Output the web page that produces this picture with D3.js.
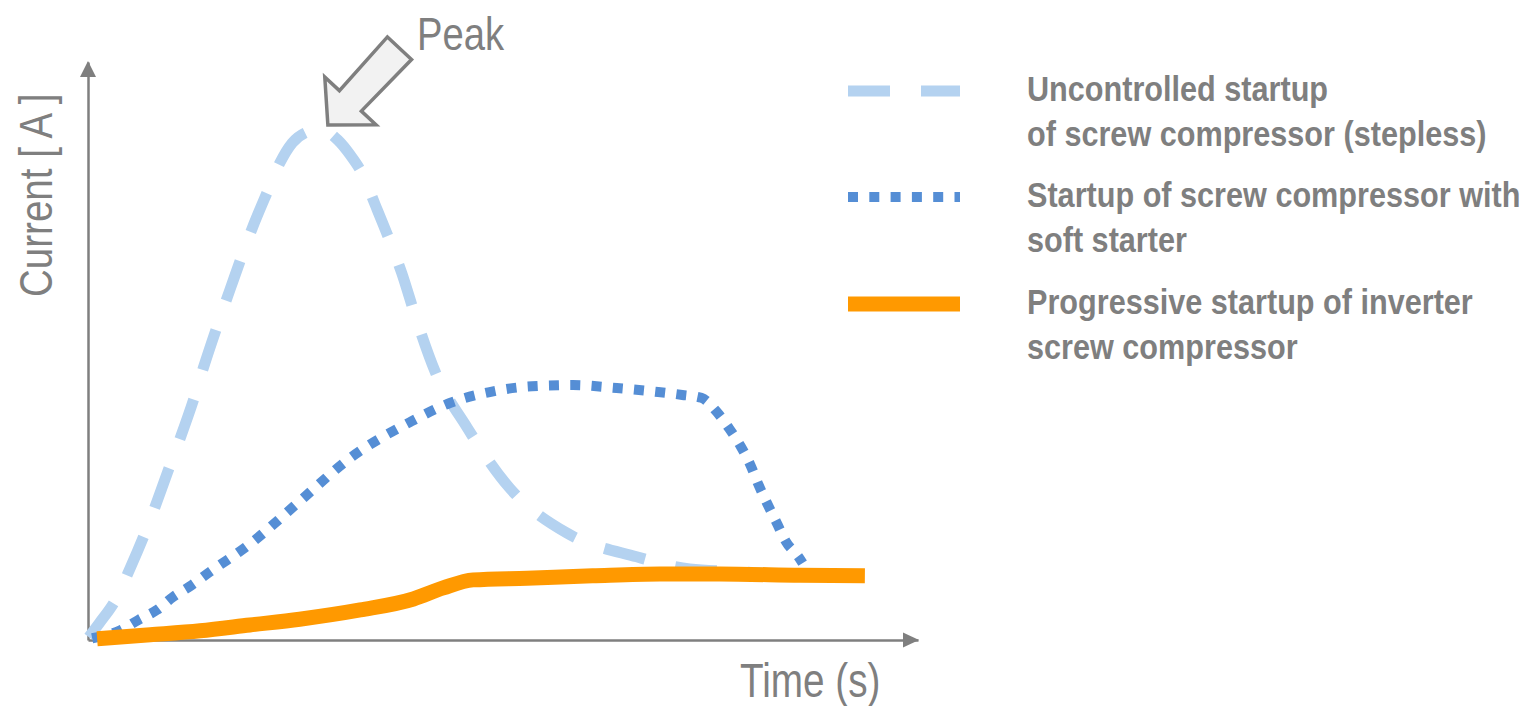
<!DOCTYPE html>
<html>
<head>
<meta charset="utf-8">
<script src="https://cdn.jsdelivr.net/npm/d3@7"></script>
<style>
    html, body { margin: 0; padding: 0; background: #ffffff; }
    #chart { width: 1526px; height: 706px; }
    text { font-family: "Liberation Sans", Arial, sans-serif; fill: #7f7f7f; }
</style>
</head>
<body>
<div id="chart"></div>
<script>
// [time, current], arbitrary units 0..100
var uncontrolled = [
    [0.1, 0.5], [1.4, 3.0], [3.3, 6.9], [5.1, 12.5], [7.5, 20.8], [9.6, 29.1],
    [11.1, 34.9], [12.7, 41.5], [13.9, 47.1], [15.4, 53.6], [17.1, 60.6],
    [19.8, 71.3], [21.6, 77.5], [23.1, 82.5], [24.6, 86.0], [26.4, 87.9],
    [28.0, 88.4], [30.1, 86.5], [31.6, 83.9], [33.0, 80.8], [34.6, 75.3],
    [36.4, 68.9], [37.8, 63.5], [39.4, 56.2], [41.8, 46.5], [45.7, 36.7],
    [50.8, 26.3], [57.7, 18.5], [66.1, 14.4], [72.5, 12.3], [78.6, 11.8],
    [85.8, 11.2], [94.7, 10.9]
];

var softStarter = [
    [0.5, 0.3], [3.9, 1.7], [6.1, 3.5], [8.3, 5.2], [10.2, 7.4], [12.5, 9.5],
    [14.7, 11.8], [19.5, 16.6], [25.5, 24.0], [31.6, 31.5], [38.8, 37.7],
    [43.6, 41.0], [48.4, 42.9], [53.5, 43.9], [58.4, 44.1], [63.7, 43.6],
    [68.7, 42.9], [71.6, 42.4], [73.9, 41.9], [75.8, 39.4], [77.2, 36.7],
    [78.6, 33.6], [79.8, 30.3], [80.8, 26.8], [81.8, 23.7], [83.0, 20.2],
    [84.1, 17.0], [85.7, 14.2], [86.1, 13.3]
];

var inverter = [
    [1.1, 0.2], [7.5, 0.9], [13.5, 1.6], [19.5, 2.6], [25.5, 3.6], [32.8, 5.2],
    [39.2, 7.1], [42.8, 9.0], [46.4, 10.4], [52.9, 10.7], [60.8, 11.1],
    [68.9, 11.4], [76.1, 11.4], [85.8, 11.2], [93.6, 11.1]
];

var legendLabels = [
    ["Uncontrolled startup", "of screw compressor (stepless)"],
    ["Startup of screw compressor with", "soft starter"],
    ["Progressive startup of inverter", "screw compressor"]
];

var axisLabels = { x: "Time (s)", y: "Current [ A ]" };
var peakLabel = "Peak";
var peakTip = [28.9, 89.1];   // where the arrow points

function StartupChart(container){
    this.container = container;
    this.svg = null;
    this.width = 1526;
    this.height = 706;

    this.axis = {};
    this.axis.x = d3.scaleLinear().domain([0, 100]).range([88, 918]);
    this.axis.y = d3.scaleLinear().domain([0, 100]).range([640, 62]);

    this.gray = "#7f7f7f";
    this.series = [
        { data: uncontrolled, color: "#b4d2f0", width: 11, dash: "42,31" },
        { data: softStarter,  color: "#558ed5", width: 10, dash: "10,11.3" },
        { data: inverter,     color: "#ff9900", width: 15, dash: null }
    ];
}

StartupChart.prototype = {
    constructor: StartupChart,

    drawAxes: function(){
        var self = this,
            x = self.axis.x,
            y = self.axis.y;

        self.svg.append("g")
            .attr("class", "x axis")
            .attr("transform", "translate(0," + y(0) + ")")
            .call(d3.axisBottom(x).tickValues([]).tickSizeOuter(0));

        self.svg.append("g")
            .attr("class", "y axis")
            .attr("transform", "translate(" + x(0) + ",0)")
            .call(d3.axisLeft(y).tickValues([]).tickSizeOuter(0));

        self.svg.selectAll(".axis .domain")
            .attr("stroke", self.gray)
            .attr("stroke-width", 2.5);

        // arrow heads
        var xe = x.range()[1], ye = y.range()[1];
        self.svg.append("path")
            .attr("d", "M" + (xe + 1) + "," + y(0) + "L" + (xe - 15) + "," + (y(0) - 7.5) +
                       "L" + (xe - 15) + "," + (y(0) + 7.5) + "Z")
            .attr("fill", self.gray);
        self.svg.append("path")
            .attr("d", "M" + x(0) + "," + (ye - 1) + "L" + (x(0) - 8) + "," + (ye + 15) +
                       "L" + (x(0) + 8) + "," + (ye + 15) + "Z")
            .attr("fill", self.gray);

        self.svg.append("text")
            .attr("transform", "translate(740,697) scale(0.815,1)")
            .style("font-size", "47.5px")
            .text(axisLabels.x);

        self.svg.append("text")
            .attr("transform", "translate(52,297) rotate(-90) scale(0.82,1)")
            .style("font-size", "47px")
            .text(axisLabels.y);
    },

    drawLines: function(){
        var self = this;
        var line = d3.line()
            .x(function(d) { return self.axis.x(d[0]); })
            .y(function(d) { return self.axis.y(d[1]); })
            .curve(d3.curveMonotoneX);

        self.svg.selectAll(".series")
            .data(self.series)
            .enter().append("path")
            .attr("class", "series")
            .attr("d", function(d) { return line(d.data); })
            .attr("fill", "none")
            .attr("stroke", function(d) { return d.color; })
            .attr("stroke-width", function(d) { return d.width; })
            .attr("stroke-dasharray", function(d) { return d.dash; })
            .attr("stroke-linejoin", "round");
    },

    drawPeak: function(){
        var self = this;
        var tx = self.axis.x(peakTip[0]),
            ty = self.axis.y(peakTip[1]);

        // block arrow, built along its own axis then turned
        var shape = [[0, 0], [33, -35], [33, -15], [105, -16.5], [105, 16.5], [33, 15], [33, 35]];
        self.svg.append("path")
            .attr("d", d3.line()(shape) + "Z")
            .attr("transform", "translate(" + tx + "," + ty + ") rotate(-47)")
            .attr("fill", "#f2f2f2")
            .attr("stroke", self.gray)
            .attr("stroke-width", 3.5)
            .attr("stroke-linejoin", "miter");

        self.svg.append("text")
            .attr("transform", "translate(417,50) scale(0.83,1)")
            .style("font-size", "46px")
            .text(peakLabel);
    },

    drawLegend: function(){
        var self = this;
        var rows = [91, 197, 304];

        var item = self.svg.selectAll(".legend")
            .data(self.series)
            .enter().append("g")
            .attr("class", "legend")
            .attr("transform", function(d, i) { return "translate(0," + rows[i] + ")"; });

        item.append("line")
            .attr("x1", 848).attr("x2", 960)
            .attr("stroke", function(d) { return d.color; })
            .attr("stroke-width", function(d) { return d.width; })
            .attr("stroke-dasharray", function(d) { return d.dash; });

        item.each(function(d, i){
            var g = d3.select(this);
            legendLabels[i].forEach(function(txt, j){
                g.append("text")
                    .attr("transform", "translate(1027," + (10 + j * 45) + ") scale(0.875,1)")
                    .style("font-size", "35px")
                    .style("font-weight", "bold")
                    .text(txt);
            });
        });
    },

    init: function(){
        var self = this;
        self.svg = d3.select(self.container).append("svg")
            .attr("width", self.width)
            .attr("height", self.height);

        self.drawAxes();
        self.drawLines();
        self.drawPeak();
        self.drawLegend();
    }
};

var chart = new StartupChart("#chart");
chart.init();
</script>
</body>
</html>
